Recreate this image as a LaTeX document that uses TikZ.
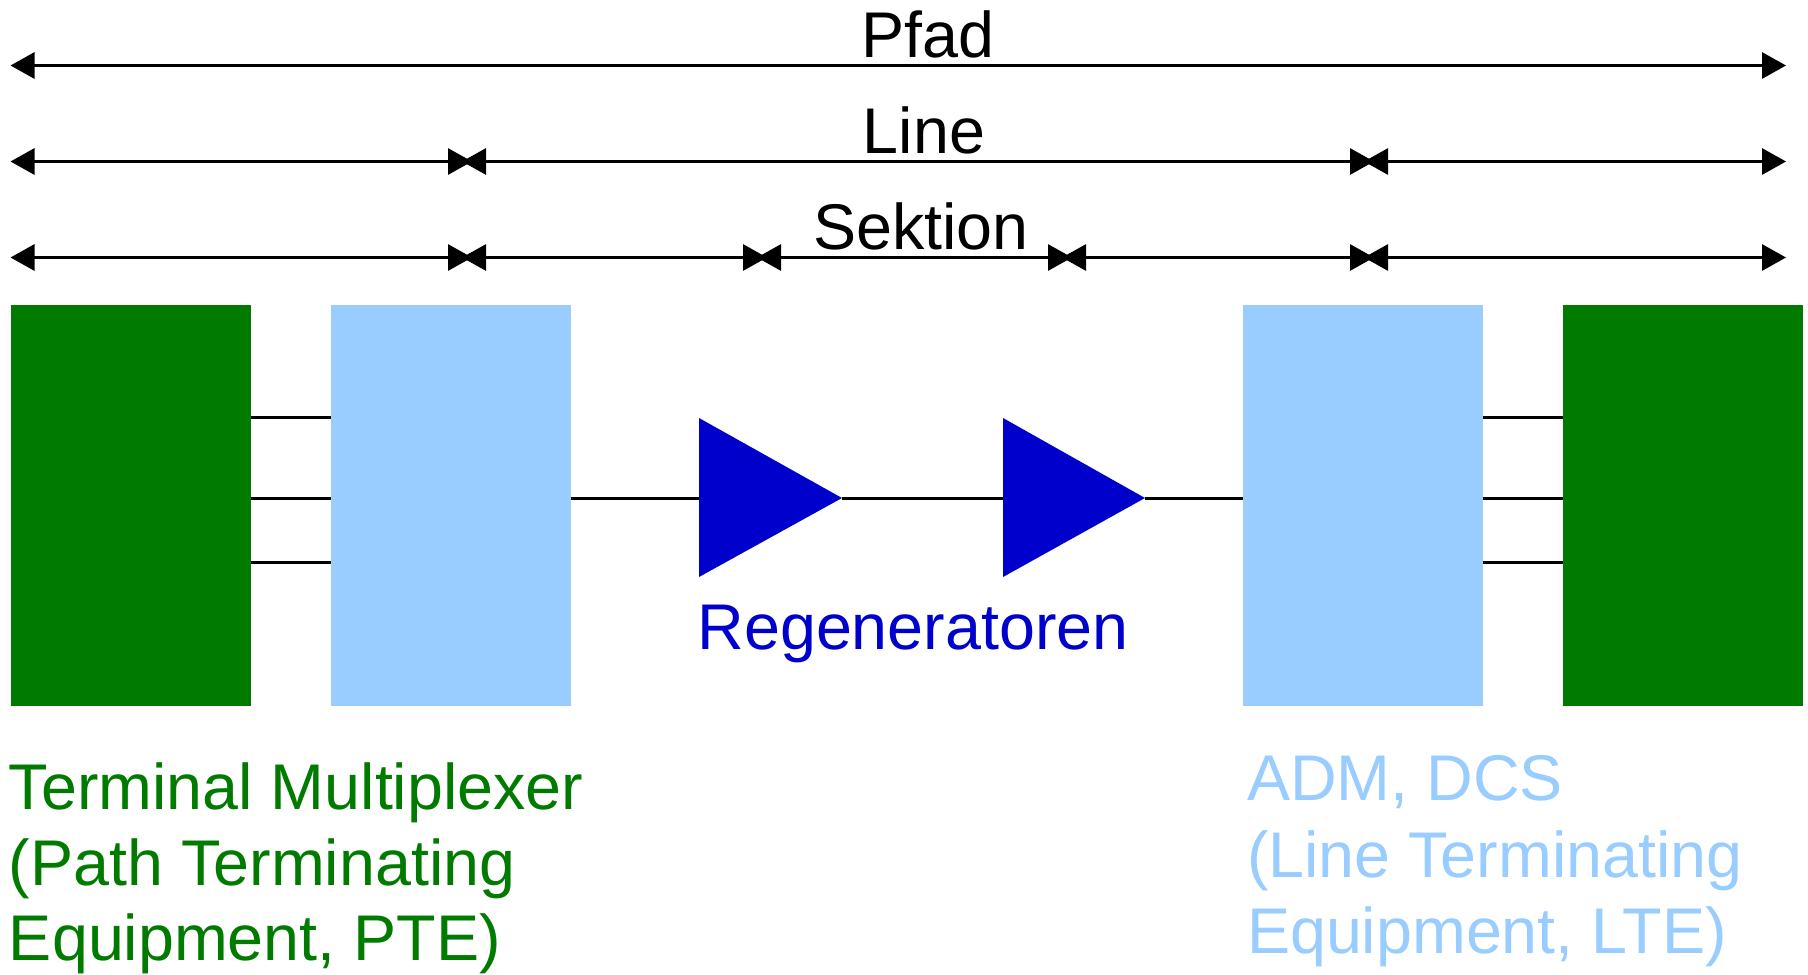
\documentclass[tikz,border=0pt]{standalone}
\usepackage{fontspec}
\setmainfont{Liberation Sans}
\usetikzlibrary{arrows.meta}
\definecolor{tmgreen}{RGB}{0,123,0}
\definecolor{lteblue}{RGB}{153,204,255}
\definecolor{regblue}{RGB}{0,0,204}
\begin{document}
\begin{tikzpicture}[x=0.5pt,y=-0.5pt,
  dimarrow/.style={line width=1.5pt, {Triangle[length=12pt,width=13pt]}-{Triangle[length=12pt,width=13pt]}},
  wire/.style={line width=1.5pt, black},
  unit/.style={rectangle, inner sep=0pt, outer sep=0pt, minimum width=120pt, minimum height=200.5pt, draw=none},
  lbl/.style={inner sep=0pt, outer sep=0pt, anchor=base, font=\fontsize{32.3}{38.5}\selectfont},
  lblw/.style={lbl, anchor=base west}]
\useasboundingbox (0,0) rectangle (1808,974);
% x positions of dimension ends/junctions (each junction: left end a, right start b)
\coordinate (xL) at (10.5,0);
\coordinate (xJ1a) at (472,0);   \coordinate (xJ1b) at (462,0);
\coordinate (xJ2a) at (767,0);   \coordinate (xJ2b) at (757,0);
\coordinate (xJ3a) at (1072,0);  \coordinate (xJ3b) at (1062,0);
\coordinate (xJ4a) at (1374,0);  \coordinate (xJ4b) at (1364,0);
\coordinate (xR) at (1786,0);
% rows
\coordinate (rP) at (0,65.5);
\coordinate (rL) at (0,161.5);
\coordinate (rS) at (0,257.5);
% Pfad
\draw[dimarrow] (xL |- rP) -- (xR |- rP);
% Line
\draw[dimarrow] (xL |- rL) -- (xJ1a |- rL);
\draw[dimarrow] (xJ1b |- rL) -- (xJ4a |- rL);
\draw[dimarrow] (xJ4b |- rL) -- (xR |- rL);
% Sektion
\draw[dimarrow] (xL |- rS) -- (xJ1a |- rS);
\draw[dimarrow] (xJ1b |- rS) -- (xJ2a |- rS);
\draw[dimarrow] (xJ2b |- rS) -- (xJ3a |- rS);
\draw[dimarrow] (xJ3b |- rS) -- (xJ4a |- rS);
\draw[dimarrow] (xJ4b |- rS) -- (xR |- rS);
\node[lbl] (tPfad) at (928,58) {Pfad};
\node[lbl] (tLine) at (924,153) {Line};
\node[lbl] (tSek) at (921,249) {Sektion};
% units
\node[unit, fill=tmgreen] (g1) at (131,505.5) {};
\node[unit, fill=lteblue] (b1) at (451,505.5) {};
\node[unit, fill=lteblue] (b2) at (1363,505.5) {};
\node[unit, fill=tmgreen] (g2) at (1683,505.5) {};
% wire rows
\coordinate (w1) at (0,417);
\coordinate (w2) at (0,498);
\coordinate (w3) at (0,562);
\foreach \w in {w1,w2,w3}{
  \draw[wire] (g1.east |- \w) -- (b1.west |- \w);
  \draw[wire] (b2.east |- \w) -- (g2.west |- \w);
}
% regenerators
\fill[regblue] (699,418) -- (842,498) -- (699,577) -- cycle;
\fill[regblue] (1003,418) -- (1145,498) -- (1003,577) -- cycle;
\coordinate (t1in) at (699,498);
\coordinate (t1out) at (842,498);
\coordinate (t2in) at (1003,498);
\coordinate (t2out) at (1145,498);
\draw[wire] (b1.east |- t1in) -- (t1in);
\draw[wire] (t1out) -- (t2in);
\draw[wire] (t2out) -- (b2.west |- t2out);
\node[lbl, text=regblue] (treg) at (913,649) {Regeneratoren};
% labels
\node[lblw, text=tmgreen] (tm1) at (9,809) {Terminal Multiplexer};
\node[lblw, text=tmgreen] (tm2) at (9,885) {(Path Terminating};
\node[lblw, text=tmgreen] (tm3) at (9,960) {Equipment, PTE)};
\node[lblw, text=lteblue] (lt1) at (1247,800) {ADM, DCS};
\node[lblw, text=lteblue] (lt2) at (1247,877) {(Line Terminating};
\node[lblw, text=lteblue] (lt3) at (1247,953) {Equipment, LTE)};
\end{tikzpicture}
\end{document}
